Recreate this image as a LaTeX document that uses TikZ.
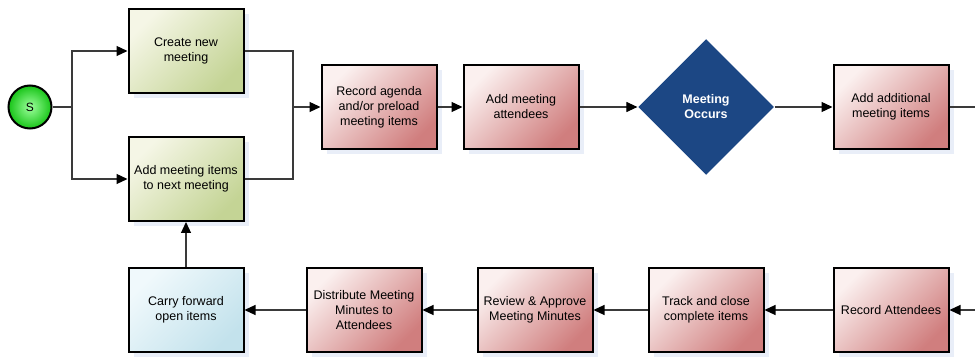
\documentclass[tikz,border=0pt]{standalone}
\usepackage{fontspec}
\setmainfont{Liberation Sans}
\usetikzlibrary{arrows.meta,positioning,shapes.geometric,shadows}

\definecolor{redlite}{HTML}{FBF0EF}
\definecolor{reddark}{HTML}{D07E7E}
\definecolor{greenlite}{HTML}{F5F6E6}
\definecolor{greendark}{HTML}{C4D495}
\definecolor{bluelite}{HTML}{F0F9FC}
\definecolor{bluedark}{HTML}{C3E2EC}
\definecolor{navy}{HTML}{1C4784}
\definecolor{shadowblue}{HTML}{D3DDF2}
\definecolor{wire}{HTML}{3A3A3A}
\definecolor{ballin}{HTML}{9CFF9C}
\definecolor{ballout}{HTML}{18C418}

\begin{document}
\begin{tikzpicture}[
            x = 1pt, y = -1pt, % pixel grid, y down
            line width = 1.2pt,
            flow/.style = {draw = wire, -{Triangle[length=11pt, width=10pt, color=black]}}, % connector with head
            wire/.style = {draw = wire}
        ]

        \tikzstyle{task}=[
            rectangle,
            draw = black,
            line width = 2pt,
            minimum width = 115pt,
            minimum height = 84pt,
            align = center,
            font = \fontsize{12.5}{15}\selectfont,
            drop shadow = {shadow xshift=5pt, shadow yshift=-5pt, fill=shadowblue, draw=none}
        ]
        \tikzstyle{redtask}=[task, top color=redlite, bottom color=reddark, shading angle=45]
        \tikzstyle{greentask}=[task, top color=greenlite, bottom color=greendark, shading angle=45]
        \tikzstyle{bluetask}=[task, top color=bluelite, bottom color=bluedark, shading angle=45]

        \useasboundingbox (0,0) rectangle (975,358);

        \node[circle, draw = black, line width = 2pt, inner color = ballin, outer color = ballout,
              minimum size = 43pt, inner sep = 0pt, font = \fontsize{12}{14}\selectfont] (s) [at={(30,107)}] {S};
        \node[greentask] (create) [at={(186,51)}] {Create new\\meeting};
        \node[greentask] (items) [at={(186,179)}] {Add meeting items\\to next meeting};
        \node[redtask] (agenda) [at={(379,107)}] {Record agenda\\and/or preload\\meeting items};
        \node[redtask] (attend) [at={(521,107)}] {Add meeting\\attendees};
        \node[diamond, fill = navy, text = white, minimum width = 136pt, minimum height = 136pt,
              inner sep = 0pt, align = center, font = \bfseries\fontsize{12.5}{15}\selectfont] (meet) [at={(706,107)}] {Meeting\\Occurs};
        \node[redtask] (addl) [at={(891,107)}] {Add additional\\meeting items};
        % Bottom row
        \node[redtask] (recatt) [at={(891,310)}] {Record Attendees};
        \node[redtask] (track) [at={(706,310)}] {Track and close\\complete items};
        \node[redtask] (review) [at={(535,310)}] {Review \& Approve\\Meeting Minutes};
        \node[redtask] (distrib) [at={(364,310)}] {Distribute Meeting\\Minutes to\\Attendees};
        \node[bluetask] (carry) [at={(186,310)}] {Carry forward\\open items};
        % Junctions and page edge
        \coordinate (split) at (72,107);
        \coordinate (join) at (293,107);
        \coordinate (outtop) at (975,107);
        \coordinate (outbot) at (975,310);

        \draw[wire] (s) -- (split);
        \draw[flow] (split) |- (create);
        \draw[flow] (split) |- (items);
        \draw[wire] (create) -| (join);
        \draw[wire] (items) -| (join);
        \path (join) edge[flow] node {} (agenda);
        \path (agenda) edge[flow] node {} (attend);
        \path (attend) edge[flow] node {} (meet);
        \path (meet) edge[flow] node {} (addl);
        \path (addl) edge[wire] node {} (outtop);
        \path (outbot) edge[flow] node {} (recatt);
        \path (recatt) edge[flow] node {} (track);
        \path (track) edge[flow] node {} (review);
        \path (review) edge[flow] node {} (distrib);
        \path (distrib) edge[flow] node {} (carry);
        \path (carry) edge[flow] node {} (items);
      \end{tikzpicture}
\end{document}
